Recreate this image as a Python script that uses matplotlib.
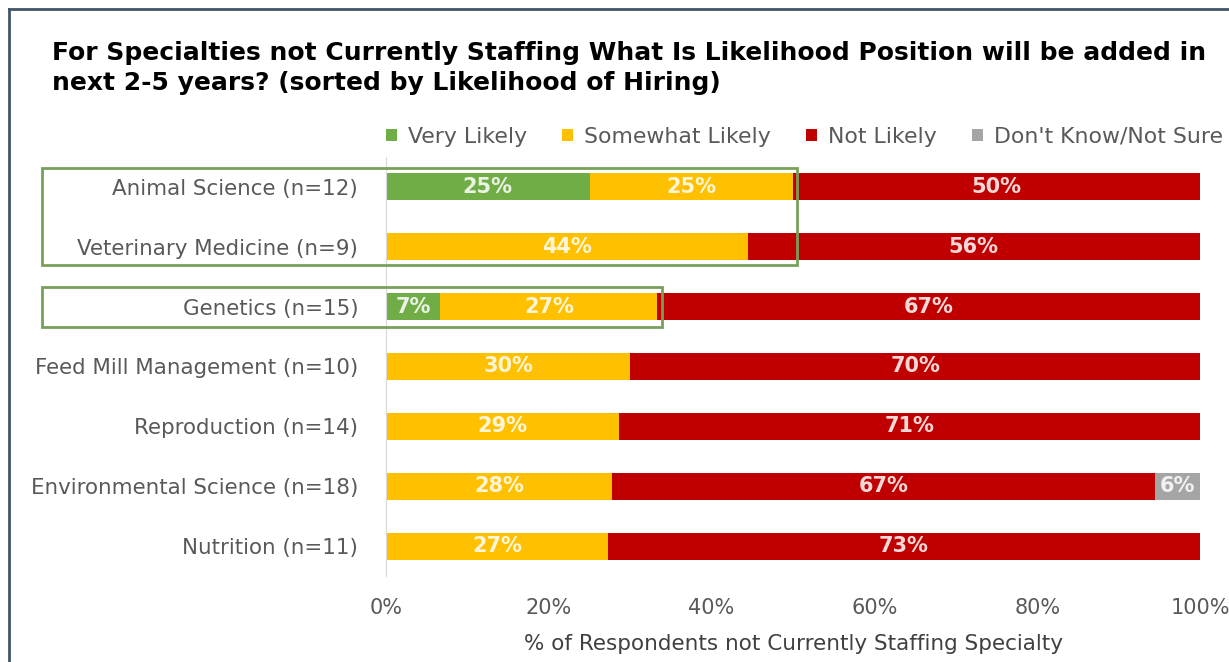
import matplotlib.pyplot as plt
from matplotlib.patches import Rectangle
from matplotlib.lines import Line2D
import numpy as np

categories = ['Animal Science (n=12)', 'Veterinary Medicine (n=9)', 'Genetics (n=15)',
              'Feed Mill Management (n=10)', 'Reproduction (n=14)',
              'Environmental Science (n=18)', 'Nutrition (n=11)']
very_likely = [25.0, 0.0, 6.67, 0.0, 0.0, 0.0, 0.0]
somewhat_likely = [25.0, 44.44, 26.67, 30.0, 28.57, 27.78, 27.27]
not_likely = [50.0, 55.56, 66.67, 70.0, 71.43, 66.67, 72.73]
dont_know = [0.0, 0.0, 0.0, 0.0, 0.0, 5.56, 0.0]

series = [('Very Likely', very_likely, '#70AD47'),
          ('Somewhat Likely', somewhat_likely, '#FFC000'),
          ('Not Likely', not_likely, '#C00000'),
          ("Don't Know/Not Sure", dont_know, '#A5A5A5')]

W, H = 1229, 662
plt.rcParams['font.family'] = ['DejaVu Sans']

fig = plt.figure(figsize=(W / 100, H / 100), dpi=100)
ax = fig.add_axes([386 / W, 1 - 576 / H, 814 / W, 419 / H])

y = np.arange(len(categories))
left = np.zeros(len(categories))
for name, vals, col in series:
    vals = np.array(vals)
    ax.barh(y, vals, left=left, height=0.45, color=col, label=name)
    for yi, (l, v) in enumerate(zip(left, vals)):
        if v > 0:
            ax.text(l + v / 2, yi, f'{v:.0f}%', ha='center', va='center',
                    color='white', alpha=0.85, fontweight='bold', fontsize=15)
    left += vals

ax.set_xlim(0, 100)
ax.set_ylim(len(categories) - 0.5, -0.5)
ax.set_yticks(y)
ax.set_yticklabels(categories, fontsize=15.4, color='#595959')
ticks = [0, 20, 40, 60, 80, 100]
ax.set_xticks(ticks)
ax.set_xticklabels([f'{t}%' for t in ticks], fontsize=15, color='#595959')
ax.tick_params(length=0, axis='y', pad=20)
ax.tick_params(length=0, axis='x', pad=15.5)
for s in ['top', 'right', 'bottom']:
    ax.spines[s].set_visible(False)
ax.spines['left'].set_color('#D9D9D9')
ax.set_xlabel('% of Respondents not Currently Staffing Specialty',
              fontsize=15.5, color='#404040', labelpad=12)

fig.text(52 / W, 1 - 90 / H,
         'For Specialties not Currently Staffing What Is Likelihood Position will be added in\n'
         'next 2-5 years? (sorted by Likelihood of Hiring)',
         fontsize=18, fontweight='bold', va='baseline', linespacing=1.33)

fig.legend(loc='center left', bbox_to_anchor=(386 / W, 1 - 137 / H), ncol=4,
           frameon=False, handlelength=0.5, handleheight=0.5, handletextpad=0.5,
           columnspacing=1.6, prop={'size': 15.8},
           labelcolor='#595959', borderaxespad=0, borderpad=0)

# outer frame
fig.add_artist(Line2D([9 / W, 9 / W], [0, 1 - 9 / H], color='#44546A', lw=2))
fig.add_artist(Line2D([9 / W, 1], [1 - 9 / H, 1 - 9 / H], color='#44546A', lw=2))

# highlight boxes
for x0, y0, x1, y1 in [(42, 168, 797, 265), (42, 287, 662, 327)]:
    fig.add_artist(Rectangle((x0 / W, 1 - y1 / H), (x1 - x0) / W, (y1 - y0) / H,
                             fill=False, edgecolor='#78A05A', lw=2))

fig.savefig('out.png', dpi=100)
